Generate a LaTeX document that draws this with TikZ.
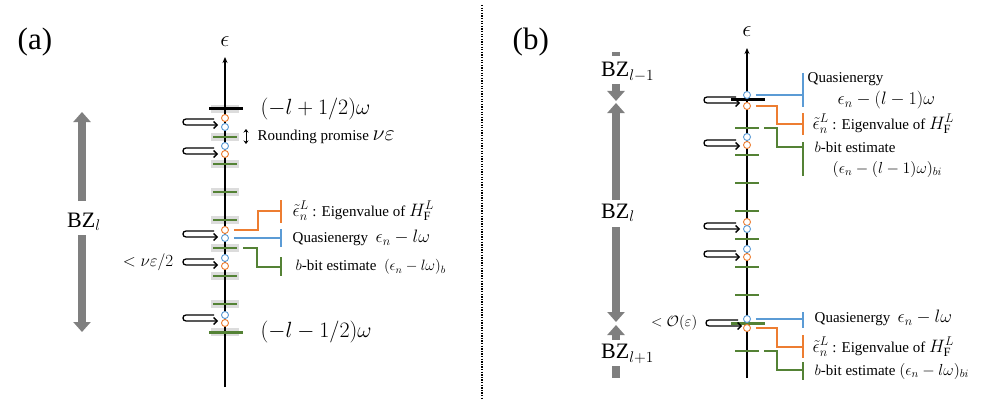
\RequirePackage{fix-cm}
\documentclass[tikz,border=0pt]{standalone}
\usepackage{fontspec}
\setmainfont{Liberation Serif}
\usetikzlibrary{arrows.meta}
\definecolor{myorange}{HTML}{ED7D31}
\definecolor{myblue}{HTML}{5B9BD5}
\definecolor{mygreen}{HTML}{548235}
\definecolor{bzgray}{HTML}{7F7F7F}
\definecolor{boxgray}{HTML}{DCDCDC}
\newcommand{\mq}[1]{{\fontsize{18}{21}\selectfont$#1$}}
\newcommand{\ms}[1]{{\fontsize{16}{19}\selectfont$#1$}}
\newcommand{\hk}[3]{\draw[hookarr] (#2-4,#3-3) -- (#1+3,#3-3) .. controls (#1-1,#3-3) and (#1-1,#3+3) .. (#1+3,#3+3) -- (#2,#3+3);}
\tikzset{
  axisline/.style={line width=1.5pt,-{Stealth[length=6pt,width=5pt]}},
  gbox/.style={fill=boxgray,draw=none},
  gtick/.style={mygreen,line width=1.8pt},
  gthick/.style={mygreen,line width=3pt},
  ktick/.style={black,line width=3pt},
  oc/.style={circle,draw=myorange,fill=white,line width=0.9pt,inner sep=0pt,minimum size=7pt},
  bc/.style={circle,draw=myblue,fill=white,line width=0.9pt,inner sep=0pt,minimum size=7pt},
  hookarr/.style={line width=1.3pt,-{Straight Barb[length=3.5pt,width=7pt]}},
  oline/.style={myorange,line width=1.3pt},
  bline/.style={myblue,line width=1.3pt},
  gline/.style={mygreen,line width=1.3pt},
  bzarr/.style={bzgray,line width=8pt},
  bzhead/.style={-{Triangle[width=17pt,length=10pt]}},
  lbl/.style={inner sep=0.5pt,anchor=west},
  divider/.style={line width=2.2pt,dash pattern=on 1.3pt off 1.3pt}
}
\begin{document}
\begin{tikzpicture}[x=1pt,y=-1pt,font=\fontsize{15}{18}\selectfont]
\useasboundingbox (0,0) rectangle (981,409);
% ================= panel (a)
\node[lbl] (pa) at (17,42) {\fontsize{31}{36}\selectfont (a)};
\foreach \yy in {109,137,164,192,220,248,276,304,332}
  \fill[gbox] (211,\yy-4) rectangle (239,\yy+4);
\coordinate (axAbot) at (225,387);
\coordinate (axAtop) at (225,57);
\draw[axisline] (axAbot) -- (axAtop);
\node (epsA) at (225,42) {\fontsize{23}{26}\selectfont$\epsilon$};
\draw[ktick] (209,109) -- (243,109);
\foreach \yy in {137,164,192,220,248,276,304}
  \draw[gtick] (213,\yy) -- (237,\yy);
\coordinate (gA5) at (237,248);
\draw[gthick] (209,332) -- (243,332);
% circles
\node[oc] (oa1) at (225,118) {};
\node[bc] (ba1) at (225,127) {};
\node[bc] (ba2) at (225,146) {};
\node[oc] (oa2) at (225,154) {};
\node[oc] (oa3) at (225,230) {};
\node[bc] (ba3) at (225,238) {};
\node[bc] (ba4) at (225,258) {};
\node[oc] (oa4) at (225,266) {};
\node[bc] (ba5) at (225,315) {};
\node[oc] (oa5) at (225,323) {};
% hooks
\hk{183}{218}{122}
\hk{183}{218}{151}
\hk{183}{218}{234}
\hk{183}{218}{262}
\hk{183}{218}{318}
% rounding promise
\coordinate (rpT) at (246,129);
\coordinate (rpB) at (246,144);
\draw[line width=1pt,{Stealth[length=3.5pt,width=5pt]}-{Stealth[length=3.5pt,width=5pt]}] (rpT) -- (rpB);
\node[lbl] (rpA) at (257,137) {Rounding promise {\fontsize{22}{24}\selectfont$\nu\varepsilon$}};
\node[lbl] (topA) at (260,109) {\fontsize{22}{26}\selectfont$(-l+1/2)\omega$};
\node[lbl] (botA) at (260,332) {\fontsize{22}{26}\selectfont$(-l-1/2)\omega$};
\node[anchor=east,inner sep=0.5pt] (neA) at (174,262) {\fontsize{17}{20}\selectfont$<\nu\varepsilon/2$};
% BZ_l arrow
\node[lbl,inner sep=0pt] (bzA) at (67,222) {\fontsize{22}{26}\selectfont$\mathrm{BZ}_l$};
\coordinate (bzAt) at (82,112);
\coordinate (bzAb) at (82,332);
\draw[bzarr,bzhead] (82,201) -- (bzAt);
\draw[bzarr,bzhead] (82,235) -- (bzAb);
% connectors (a)
\coordinate (barOA) at (281,211);
\coordinate (barBA) at (281,238);
\coordinate (barGA) at (281,267);
\draw[oline] ([xshift=5pt]oa3.east) -- ++(24,0) |- (barOA);
\draw[oline] (barOA) ++(0,-11) -- ++(0,23);
\draw[bline] ([xshift=5pt]ba3.east) -- (barBA);
\draw[bline] (barBA) ++(0,-9) -- ++(0,18);
\draw[gline] ([xshift=6pt]gA5) -- (257,248) |- (barGA);
\draw[gline] (barGA) ++(0,-10) -- ++(0,19);
\node[lbl] (eigA) at (292,211) {\mq{\tilde\epsilon_n^L} : Eigenvalue of \mq{H_{\mathrm{F}}^L}};
\node[lbl] (quA) at (292,238) {Quasienergy\enspace \mq{\epsilon_n-l\omega}};
\node[lbl] (bbA) at (295,267) {$b$-bit estimate\enspace {\fontsize{15}{18}\selectfont$(\epsilon_n-l\omega)_b$}};
% ================= divider
\coordinate (dvT) at (482,5);
\coordinate (dvB) at (482,400);
\draw[divider] (dvT) -- (dvB);
% ================= panel (b)
\node[lbl] (pb) at (512,42) {\fontsize{31}{36}\selectfont (b)};
\coordinate (axBbot) at (747,378);
\coordinate (axBtop) at (747,48);
\draw[axisline] (axBbot) -- (axBtop);
\node (epsB) at (747,32) {\fontsize{23}{26}\selectfont$\epsilon$};
\draw[ktick] (731,100) -- (765,100);
\foreach \yy in {128,155,183,211,239,267,295,351}
  \draw[gtick] (735,\yy) -- (759,\yy);
\coordinate (gB1) at (759,128);
\coordinate (gB9) at (759,351);
\draw[gthick] (731,323) -- (765,323);
\node[bc] (bb1) at (747,95) {};
\node[oc] (ob1) at (747,106) {};
\node[bc] (bb2) at (747,137) {};
\node[oc] (ob2) at (747,145) {};
\node[oc] (ob3) at (747,222) {};
\node[bc] (bb3) at (747,229) {};
\node[bc] (bb4) at (747,249) {};
\node[oc] (ob4) at (747,257) {};
\node[bc] (bb5) at (747,319) {};
\node[oc] (ob5) at (747,328) {};
\hk{704}{740}{100}
\hk{704}{740}{143}
\hk{704}{740}{226}
\hk{704}{740}{254}
\hk{706}{742}{323}
\node[anchor=east,inner sep=0.5pt] (neB) at (698,323) {\fontsize{15}{18}\selectfont$<\mathcal{O}(\varepsilon)$};
% BZ arrows (b)
\coordinate (bzd1) at (616,52);
\coordinate (bzd2) at (616,56.5);
\draw[bzarr] (bzd1) -- (bzd2);
\node[lbl,inner sep=0pt] (bzB1) at (601,72) {\fontsize{22}{26}\selectfont$\mathrm{BZ}_{l-1}$};
\coordinate (bzb1) at (616,101);
\draw[bzarr,bzhead] (616,84) -- (bzb1);
\coordinate (bzb2) at (616,103);
\draw[bzarr,bzhead] (616,200) -- (bzb2);
\node[lbl,inner sep=0pt] (bzB2) at (601,213) {\fontsize{22}{26}\selectfont$\mathrm{BZ}_l$};
\coordinate (bzb3) at (616,322);
\draw[bzarr,bzhead] (616,227) -- (bzb3);
\coordinate (bzb4) at (616,325);
\draw[bzarr,bzhead] (616,340) -- (bzb4);
\node[lbl,inner sep=0pt] (bzB3) at (601,354) {\fontsize{22}{26}\selectfont$\mathrm{BZ}_{l+1}$};
\coordinate (bze1) at (616,366);
\coordinate (bze2) at (616,378);
\draw[bzarr] (bze1) -- (bze2);
% connectors (b) top
\coordinate (barB1) at (803,90);
\coordinate (barB2) at (803,124);
\coordinate (barB3) at (803,159);
\draw[bline] ([xshift=5pt]bb1.east) -- (bb1 -| barB1);
\draw[bline] (803,73) -- (803,107);
\draw[oline] ([xshift=5pt]ob1.east) -- (777,106) |- (barB2);
\draw[oline] (803,113) -- (803,135);
\draw[gline] ([xshift=5pt]gB1) -- (777,128) |- (803,147);
\draw[gline] (803,142) -- (803,176);
\node[lbl] (quB1) at (807,79) {Quasienergy};
\node[lbl] (quB1m) at (837,100) {\mq{\epsilon_n-(l-1)\omega}};
\node[lbl] (eigB1) at (812,124) {\mq{\tilde\epsilon_n^L} : Eigenvalue of \mq{H_{\mathrm{F}}^L}};
\node[lbl] (bbB1) at (814,147) {$b$-bit estimate};
\node[lbl] (bbB1m) at (832,169) {\ms{(\epsilon_n-(l-1)\omega)_{bi}}};
% connectors (b) bottom
\coordinate (barB4) at (803,320);
\coordinate (barB5) at (803,347);
\coordinate (barB6) at (803,370);
\draw[bline] ([xshift=5pt]bb5.east) -- (bb5 -| barB4);
\draw[bline] (803,312) -- (803,328);
\draw[oline] ([xshift=5pt]ob5.east) -- (777,328) |- (barB5);
\draw[oline] (803,335) -- (803,358);
\draw[gline] ([xshift=5pt]gB9) -- (777,351) |- (barB6);
\draw[gline] (803,362) -- (803,380);
\node[lbl] (quB2) at (814,318) {Quasienergy\enspace \mq{\epsilon_n-l\omega}};
\node[lbl] (eigB2) at (812,347) {\mq{\tilde\epsilon_n^L} : Eigenvalue of \mq{H_{\mathrm{F}}^L}};
\node[lbl] (bbB2) at (814,371) {$b$-bit estimate \ms{(\epsilon_n-l\omega)_{bi}}};
\end{tikzpicture}
\end{document}
